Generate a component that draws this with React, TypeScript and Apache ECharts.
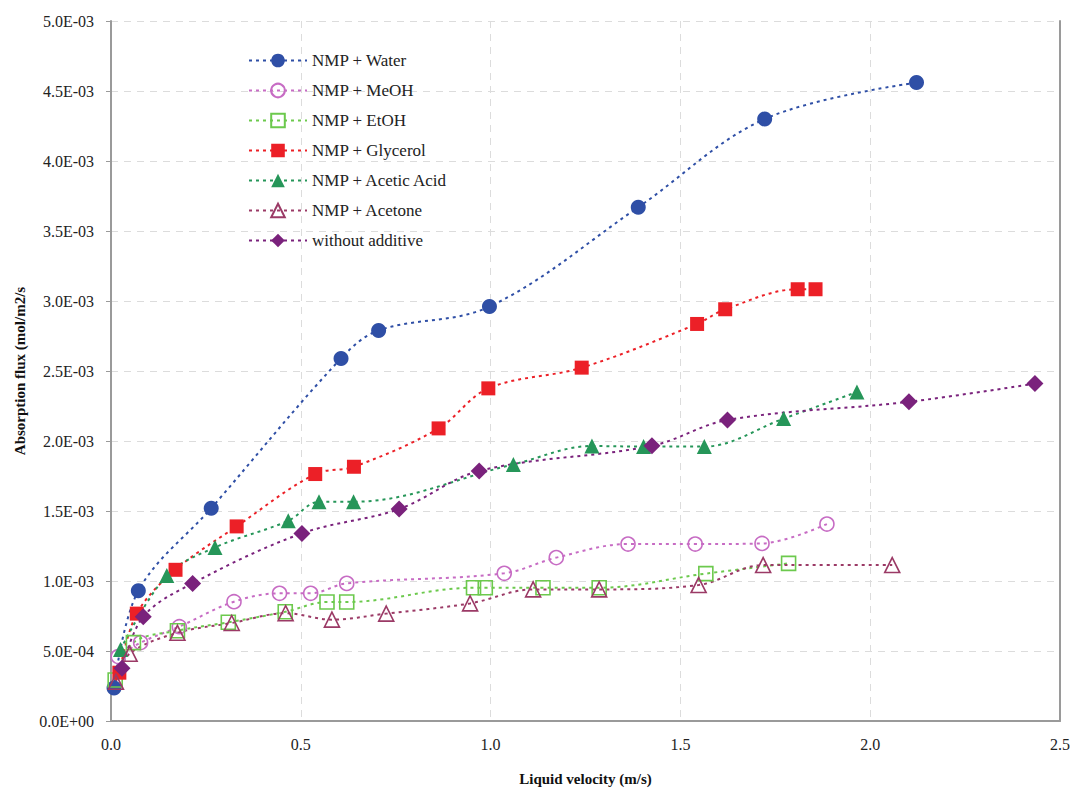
import React, { useEffect, useRef } from "react";
import * as echarts from "echarts";

// Liquid velocity (m/s) and absorption flux (in units of 1E-03 mol/m2/s)
const waterX = [0.008, 0.072, 0.264, 0.606, 0.705, 0.997, 1.389, 1.722, 2.122];
const waterY = [0.236, 0.93, 1.52, 2.59, 2.79, 2.96, 3.67, 4.3, 4.56];

const meohX = [0.019, 0.078, 0.18, 0.324, 0.444, 0.526, 0.621, 1.036, 1.173, 1.362, 1.539, 1.715, 1.886];
const meohY = [0.46, 0.56, 0.674, 0.852, 0.912, 0.912, 0.983, 1.055, 1.167, 1.264, 1.264, 1.268, 1.407];

const etohX = [0.011, 0.059, 0.175, 0.309, 0.459, 0.569, 0.621, 0.955, 0.986, 1.138, 1.286, 1.567, 1.785];
const etohY = [0.293, 0.56, 0.645, 0.705, 0.78, 0.85, 0.85, 0.952, 0.952, 0.952, 0.952, 1.053, 1.126];

const glycerolX = [0.022, 0.068, 0.17, 0.331, 0.538, 0.64, 0.863, 0.994, 1.24, 1.544, 1.618, 1.809, 1.856];
const glycerolY = [0.345, 0.767, 1.08, 1.39, 1.764, 1.816, 2.09, 2.376, 2.524, 2.836, 2.941, 3.084, 3.084];

const aceticX = [0.025, 0.147, 0.274, 0.467, 0.548, 0.639, 1.06, 1.267, 1.403, 1.563, 1.772, 1.965];
const aceticY = [0.51, 1.04, 1.24, 1.43, 1.566, 1.566, 1.833, 1.964, 1.96, 1.96, 2.16, 2.35];

const acetoneX = [0.013, 0.049, 0.175, 0.318, 0.46, 0.582, 0.725, 0.946, 1.112, 1.286, 1.548, 1.718, 2.058];
const acetoneY = [0.28, 0.48, 0.63, 0.7, 0.77, 0.724, 0.767, 0.84, 0.94, 0.94, 0.971, 1.114, 1.114];

const noneX = [0.029, 0.085, 0.215, 0.503, 0.759, 0.97, 1.425, 1.624, 2.102, 2.434];
const noneY = [0.376, 0.745, 0.983, 1.34, 1.514, 1.786, 1.966, 2.15, 2.28, 2.41];

const seriesNames = [
  "NMP + Water",
  "NMP + MeOH",
  "NMP + EtOH",
  "NMP + Glycerol",
  "NMP + Acetic Acid",
  "NMP + Acetone",
  "without additive",
];

const xTitle = "Liquid velocity (m/s)";
const yTitle = "Absorption flux (mol/m2/s";

const FONT = "'Times New Roman', 'Liberation Serif', 'DejaVu Serif', serif";

function zip(xs: number[], ys: number[]) {
  return xs.map((x, i) => [x, ys[i]]);
}

function fmtY(v: number) {
  if (Math.abs(v) < 1e-9) return "0.0E+00";
  const s = (v / 1000).toExponential(1);
  const [m, e] = s.split("e");
  const n = parseInt(e, 10);
  return m + "E" + (n < 0 ? "-" : "+") + String(Math.abs(n)).padStart(2, "0");
}

function mkSeries(
  name: string,
  data: number[][],
  color: string,
  symbol: string,
  hollow: boolean,
  size: number
) {
  return {
    name,
    type: "line",
    data,
    smooth: 0.35,
    symbol,
    symbolSize: size,
    showSymbol: true,
    lineStyle: { color, width: 2, type: [3, 4] },
    itemStyle: hollow
      ? { color: "rgba(255,255,255,0)", borderColor: color, borderWidth: 1.6 }
      : { color, borderColor: color, borderWidth: 0 },
    emphasis: { disabled: true },
    z: 3,
  };
}

export default function App() {
  const ref = useRef<HTMLDivElement>(null);
  useEffect(() => {
    document.body.style.margin = "0";
    if (!ref.current) return;
    const chart = echarts.init(ref.current, null, { renderer: "svg" });
    const axisLine = { show: true, lineStyle: { color: "#9a9a9a", width: 2 } };
    const split = { show: true, lineStyle: { color: "#dcdcdc", width: 1, type: [7, 6] } };
    chart.setOption({
      animation: false,
      backgroundColor: "#ffffff",
      textStyle: { fontFamily: FONT },
      grid: { left: 111, right: 14, top: 21, bottom: 71, containLabel: false },
      legend: {
        orient: "vertical",
        left: 243,
        top: 47,
        itemWidth: 58,
        itemHeight: 17,
        itemGap: 13,
        textStyle: { fontFamily: FONT, fontSize: 17, color: "#222" },
        data: seriesNames,
      },
      xAxis: {
        type: "value",
        min: 0,
        max: 2.5,
        interval: 0.5,
        axisLine: { ...axisLine, onZero: false },
        axisTick: { show: false },
        splitLine: split,
        axisLabel: {
          formatter: (v: number) => v.toFixed(1),
          fontFamily: FONT,
          fontSize: 16,
          color: "#222",
          margin: 15,
          showMaxLabel: true,
        },
        name: xTitle,
        nameLocation: "middle",
        nameGap: 50,
        nameTextStyle: { fontFamily: FONT, fontSize: 15, fontWeight: "bold", color: "#111" },
      },
      yAxis: [
        {
          type: "value",
          min: 0,
          max: 5,
          interval: 0.5,
          axisLine,
          axisTick: { show: true, length: 5, lineStyle: { color: "#9a9a9a", width: 1 } },
          splitLine: split,
          axisLabel: {
            formatter: fmtY,
            fontFamily: FONT,
            fontSize: 16,
            color: "#222",
            margin: 17,
          },
          name: yTitle,
          nameLocation: "middle",
          nameGap: 84,
          nameRotate: 90,
          nameTextStyle: { fontFamily: FONT, fontSize: 15, fontWeight: "bold", color: "#111" },
        },
        {
          type: "value",
          position: "right",
          min: 0,
          max: 5,
          interval: 0.5,
          axisLine,
          axisTick: { show: false },
          axisLabel: { show: false },
          splitLine: { show: false },
        },
      ],
      series: [
        mkSeries(seriesNames[0], zip(waterX, waterY), "#2f4fa6", "circle", false, 15),
        mkSeries(seriesNames[1], zip(meohX, meohY), "#c76cc4", "circle", true, 14),
        mkSeries(seriesNames[2], zip(etohX, etohY), "#6cc94d", "rect", true, 14),
        mkSeries(seriesNames[3], zip(glycerolX, glycerolY), "#ec2027", "rect", false, 14),
        mkSeries(seriesNames[4], zip(aceticX, aceticY), "#269659", "triangle", false, 15),
        mkSeries(seriesNames[5], zip(acetoneX, acetoneY), "#9b3a66", "triangle", true, 15),
        mkSeries(seriesNames[6], zip(noneX, noneY), "#7a227c", "diamond", false, 17),
      ],
    });
    return () => chart.dispose();
  }, []);
  return <div ref={ref} style={{ width: 1074, height: 792 }} />;
}
